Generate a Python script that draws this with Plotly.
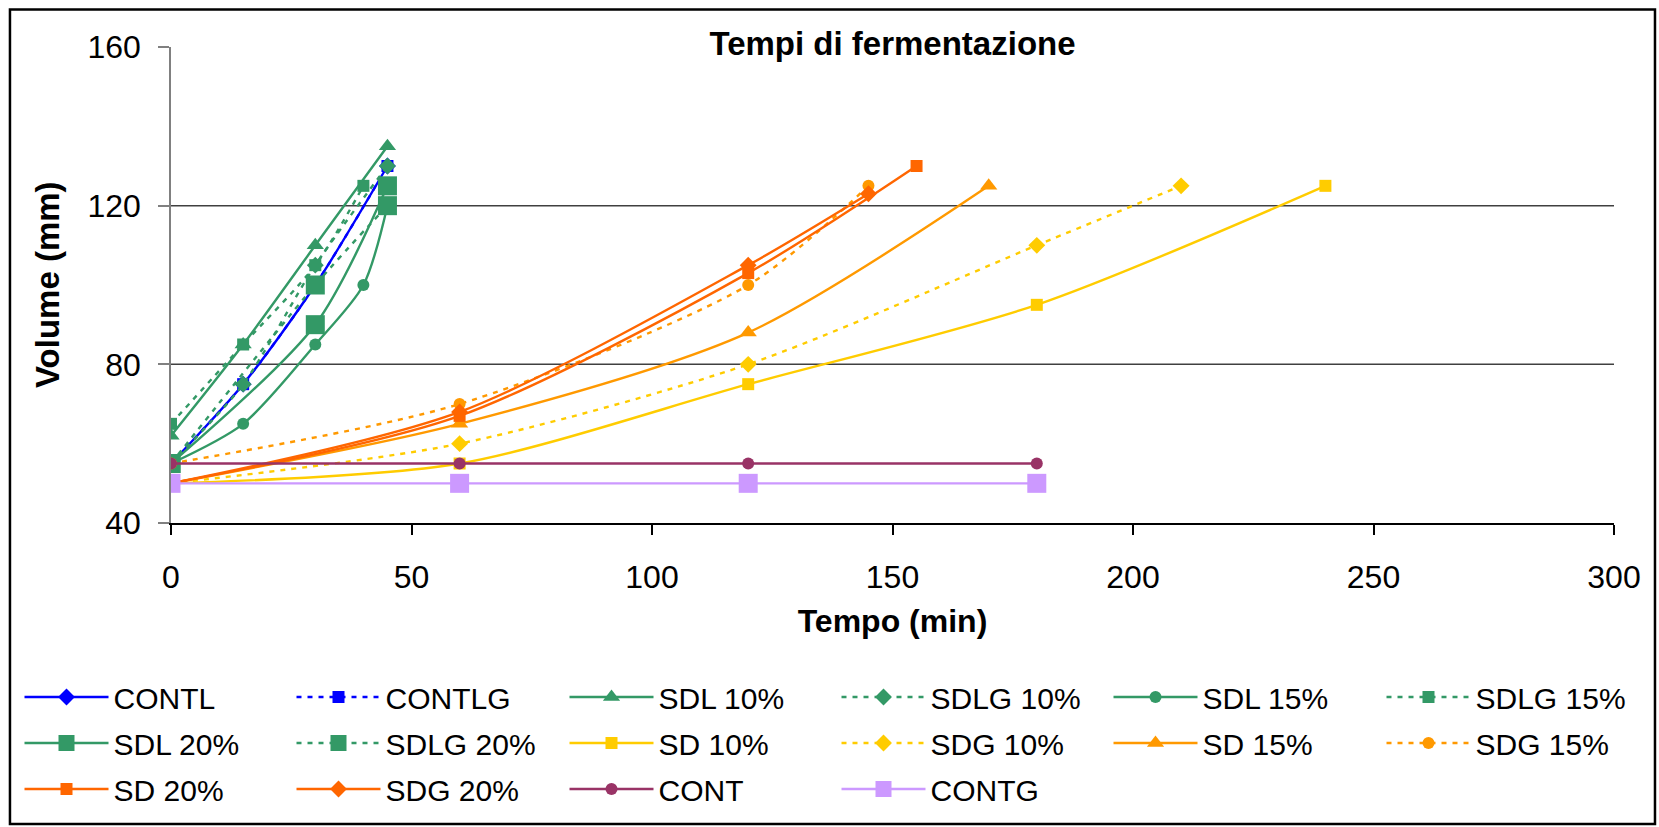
import plotly.graph_objects as go

# Fermentation volume (mm) over time (min) for each dough formulation
contl_t = [0, 15, 30, 45]
contl_v = [55, 75, 100, 130]

contlg_t = [0, 15, 30, 45]
contlg_v = [55, 75, 100, 130]

sdl10_t = [0, 15, 30, 45]
sdl10_v = [62, 85, 110, 135]

sdlg10_t = [0, 15, 30, 45]
sdlg10_v = [55, 75, 105, 130]

sdl15_t = [0, 15, 30, 40, 45]
sdl15_v = [55, 65, 85, 100, 120]

sdlg15_t = [0, 15, 30, 40]
sdlg15_v = [65, 85, 105, 125]

sdl20_t = [0, 30, 45]
sdl20_v = [55, 90, 125]

sdlg20_t = [0, 30, 45]
sdlg20_v = [55, 100, 120]

sd10_t = [0, 60, 120, 180, 240]
sd10_v = [50, 55, 75, 95, 125]

sdg10_t = [0, 60, 120, 180, 210]
sdg10_v = [50, 60, 80, 110, 125]

sd15_t = [0, 60, 120, 170]
sd15_v = [50, 65, 88, 125]

sdg15_t = [0, 60, 120, 145]
sdg15_v = [55, 70, 100, 125]

sd20_t = [0, 60, 120, 155]
sd20_v = [50, 67, 103, 130]

sdg20_t = [0, 60, 120, 145]
sdg20_v = [50, 68, 105, 123]

cont_t = [0, 60, 120, 180]
cont_v = [55, 55, 55, 55]

contg_t = [0, 60, 120, 180]
contg_v = [50, 50, 50, 50]

grid_levels = [80, 120]

BLUE = "#0000FF"
GREEN = "#339966"
YELLOW = "#FFCC00"
ORANGE = "#FF9900"
RED_ORANGE = "#FF6600"
PLUM = "#993366"
LAVENDER = "#CC99FF"
DOTTED = "5px,6px"

series = [
    ("CONTL", contl_t, contl_v, BLUE, "solid", "diamond", 13),
    ("CONTLG", contlg_t, contlg_v, BLUE, DOTTED, "square", 12),
    ("SDL 10%", sdl10_t, sdl10_v, GREEN, "solid", "triangle-up", 15),
    ("SDLG 10%", sdlg10_t, sdlg10_v, GREEN, DOTTED, "diamond", 13),
    ("SDL 15%", sdl15_t, sdl15_v, GREEN, "solid", "circle", 12),
    ("SDLG 15%", sdlg15_t, sdlg15_v, GREEN, DOTTED, "square", 12),
    ("SDL 20%", sdl20_t, sdl20_v, GREEN, "solid", "square", 19),
    ("SDLG 20%", sdlg20_t, sdlg20_v, GREEN, DOTTED, "square", 19),
    ("SD 10%", sd10_t, sd10_v, YELLOW, "solid", "square", 12),
    ("SDG 10%", sdg10_t, sdg10_v, YELLOW, DOTTED, "diamond", 13),
    ("SD 15%", sd15_t, sd15_v, ORANGE, "solid", "triangle-up", 15),
    ("SDG 15%", sdg15_t, sdg15_v, ORANGE, DOTTED, "circle", 12),
    ("SD 20%", sd20_t, sd20_v, RED_ORANGE, "solid", "square", 12),
    ("SDG 20%", sdg20_t, sdg20_v, RED_ORANGE, "solid", "diamond", 13),
    ("CONT", cont_t, cont_v, PLUM, "solid", "circle", 12),
    ("CONTG", contg_t, contg_v, LAVENDER, "solid", "square", 19),
]

N_COLS = 6
W, H = 1659, 827


def legend_id(col):
    return "legend" if col == 0 else f"legend{col + 1}"


fig = go.Figure()
for i, (name, t, v, color, dash, symbol, size) in enumerate(series):
    fig.add_trace(go.Scatter(
        x=t, y=v, name=name, mode="lines+markers",
        legend=legend_id(i % N_COLS), legendgroup=name,
        line=dict(color=color, width=2.4, dash=dash, shape="spline", smoothing=0.8),
        marker=dict(symbol=symbol, size=size, color=color, line=dict(width=0)),
    ))

# horizontal gridlines
for g in grid_levels:
    fig.add_shape(type="line", xref="paper", yref="y", x0=0, x1=1, y0=g, y1=g,
                  line=dict(color="#404040", width=1.5), layer="below")

# outer chart frame
fig.add_shape(type="rect", xref="paper", yref="paper",
              x0=-0.1116, x1=1.0284, y0=-0.6323, y1=1.0787,
              line=dict(color="black", width=2.5), fillcolor="rgba(0,0,0,0)")

FONT = "Liberation Sans, Arial, sans-serif"

fig.update_layout(
    width=W, height=H,
    margin=dict(l=171, r=45, t=47, b=304, autoexpand=False),
    paper_bgcolor="white", plot_bgcolor="white",
    title=dict(text="<b>Tempi di fermentazione</b>", x=0.5, xref="paper",
               y=1 - 43 / H, yref="container", xanchor="center", yanchor="middle",
               font=dict(family=FONT, size=33, color="black")),
    xaxis=dict(range=[0, 300], dtick=50, showgrid=False, zeroline=False,
               showline=True, linecolor="black", linewidth=2,
               ticks="outside", ticklen=10, tickcolor="black", tickwidth=1.5,
               ticklabelstandoff=15,
               tickfont=dict(family=FONT, size=32, color="black"),
               title=dict(text="<b>Tempo (min)</b>", standoff=15,
                          font=dict(family=FONT, size=32, color="black"))),
    yaxis=dict(range=[40, 160], dtick=40, showgrid=False, zeroline=False,
               showline=True, linecolor="#808080", linewidth=1.5,
               ticks="outside", ticklen=11, tickcolor="#808080", tickwidth=1.5,
               ticklabelstandoff=11,
               tickfont=dict(family=FONT, size=32, color="black")),
    showlegend=True,
)

# vertical axis title
fig.add_annotation(text="<b>Volume (mm)</b>", xref="paper", yref="paper",
                   x=(47 - 171) / (W - 171 - 45), y=0.5, textangle=-90,
                   xanchor="center", yanchor="middle", showarrow=False,
                   font=dict(family=FONT, size=33, color="black"))

# legend laid out as six columns of up to three entries
col_x = [19.5, 291.5, 564.5, 836.5, 1108.5, 1381.5]
for c, xpx in enumerate(col_x):
    fig.update_layout(**{legend_id(c): dict(
        orientation="v", xref="container", yref="container",
        x=xpx / W, y=1 - 671 / H, xanchor="left", yanchor="top",
        itemwidth=84, traceorder="grouped", tracegroupgap=4,
        bgcolor="rgba(0,0,0,0)", borderwidth=0,
        font=dict(family=FONT, size=30, color="black"),
    )})

fig.write_html("out.html")
